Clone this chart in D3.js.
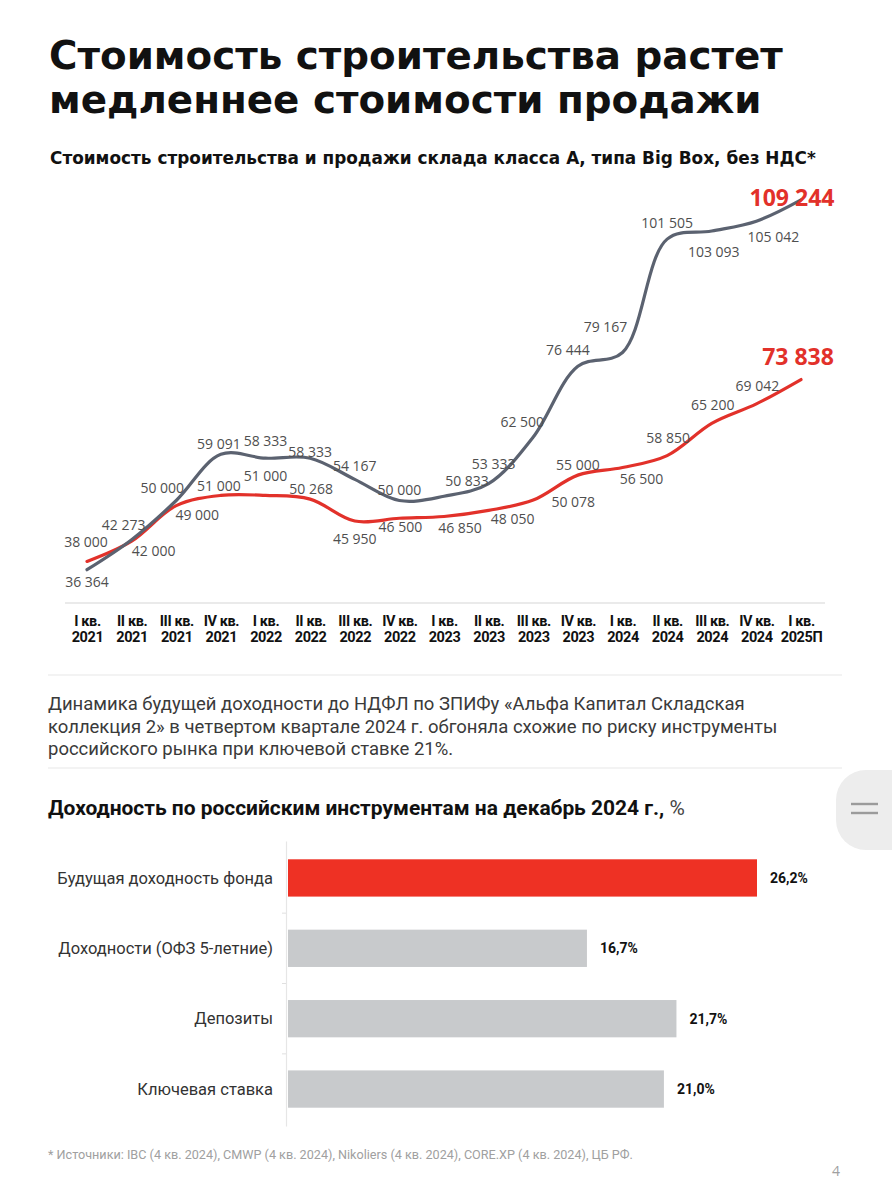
<!DOCTYPE html>
<html>
<head>
<meta charset="utf-8">
<script src="https://cdn.jsdelivr.net/npm/d3@7"></script>
<style>
  body { margin: 0; background: #fff; }
  svg { display: block; font-family: "Open Sans", sans-serif; }
</style>
</head>
<body>
<div id="page"></div>
<script>
// ---- data ----
const quarterNames = ["I кв.", "II кв.", "III кв.", "IV кв.", "I кв.", "II кв.", "III кв.", "IV кв.",
  "I кв.", "II кв.", "III кв.", "IV кв.", "I кв.", "II кв.", "III кв.", "IV кв.", "I кв."];
const quarterYears = ["2021", "2021", "2021", "2021", "2022", "2022", "2022", "2022",
  "2023", "2023", "2023", "2023", "2024", "2024", "2024", "2024", "2025П"];
const saleCost = [36364, 42273, 50000, 59091, 58333, 58333, 54167, 50000, 50833,
  53333, 62500, 76444, 79167, 101505, 103093, 105042, 109244];
const buildCost = [38000, 42000, 49000, 51000, 51000, 50268, 45950, 46500, 46850,
  48050, 50078, 55000, 56500, 58850, 65200, 69042, 73838];

const barCategories = ["Будущая доходность фонда", "Доходности (ОФЗ 5-летние)", "Депозиты", "Ключевая ставка"];
const barValues = [26.2, 16.7, 21.7, 21.0];

// label nudges (layout only): [dx, dy] from the point
const saleLabelNudge = [[0, 12], [-8, -15], [-14, -13], [-2, -10], [0, -17], [0, -6], [0, -13], [0, -11],
  [23, -15], [5, -20], [-11, -15], [-10, -16], [-17, -26], [0, -16], [2, 21], [17, 16], [-9, -2]];
const buildLabelNudge = [[-1, -19], [22, 10], [21, 9], [-2, -9], [0, -19], [1, -10], [0, 18], [1, 9],
  [16, 11], [24, 9], [40, 2], [0, -10], [19, 11], [1, -18], [1, -18], [1, -18], [-3, -23]];

const W = 892, H = 1200;
const red = "#e2312a", grey = "#5b6270";
const ru = d3.formatLocale({ decimal: ",", thousands: "\u00a0", grouping: [3], currency: ["", ""] });
const fmtNum = ru.format(",");
const fmtPct = ru.format(".1f");

const svg = d3.select("#page").append("svg")
  .attr("width", W).attr("height", H)
  .attr("viewBox", [0, 0, W, H]);

function fit(sel, w) {
  const fs = parseFloat(sel.attr("font-size"));
  const len = sel.node().getComputedTextLength();
  sel.attr("font-size", (fs * w / len).toFixed(2));
}

// ---- titles ----
const headFont = "'DejaVu Sans', sans-serif";
const t1 = svg.append("text").attr("x", 49).attr("y", 69)
  .attr("font-family", headFont)
  .attr("font-size", 36).attr("font-weight", 700).attr("fill", "#111")
  .text("Стоимость строительства растет");
fit(t1, 734);
svg.append("text").attr("x", 49).attr("y", 113)
  .attr("font-family", headFont)
  .attr("font-size", t1.attr("font-size")).attr("font-weight", 700).attr("fill", "#111")
  .text("медленнее стоимости продажи");

const st = svg.append("text").attr("x", 50).attr("y", 164)
  .attr("font-family", headFont)
  .attr("font-size", 17).attr("font-weight", 700).attr("fill", "#111")
  .text("Стоимость строительства и продажи склада класса А, типа Big Box, без НДС*");
fit(st, 766);

// ---- line chart ----
const keys = quarterNames.map((q, i) => i);
const x = d3.scalePoint().domain(keys).range([87, 801]);
const y = d3.scaleLinear().domain([30000, 110000]).range([602, 196]);

const lineChart = svg.append("g");

lineChart.append("line")
  .attr("x1", x(0) - 22).attr("x2", x(16) + 24)
  .attr("y1", 603).attr("y2", 603)
  .attr("stroke", "#e3e3e3").attr("stroke-width", 1.5);

const bottomAxis = d3.axisBottom(x).tickSize(0).tickFormat(() => "");
const axisG = lineChart.append("g")
  .attr("transform", "translate(0, 603)")
  .call(bottomAxis);
axisG.select(".domain").remove();
axisG.selectAll(".tick text").remove();
axisG.selectAll(".tick").append("text")
  .attr("text-anchor", "middle")
  .attr("font-family", "Roboto, sans-serif")
  .attr("font-weight", 700).attr("font-size", 14.5).attr("fill", "#111")
  .attr("letter-spacing", -0.4)
  .each(function (d) {
    const t = d3.select(this);
    t.append("tspan").attr("x", 0).attr("y", 23).text(quarterNames[d]);
    t.append("tspan").attr("x", 0).attr("y", 39).text(quarterYears[d]);
  });

const line = d3.line()
  .x((d, i) => x(i))
  .y(d => y(d))
  .curve(d3.curveCatmullRom.alpha(0.5));

lineChart.append("path").datum(buildCost)
  .attr("d", line).attr("fill", "none")
  .attr("stroke", red).attr("stroke-width", 3.2).attr("stroke-linecap", "round");
lineChart.append("path").datum(saleCost)
  .attr("d", line).attr("fill", "none")
  .attr("stroke", grey).attr("stroke-width", 3.2).attr("stroke-linecap", "round");

function drawLabels(values, nudge) {
  const last = values.length - 1;
  lineChart.append("g").selectAll("text")
    .data(values)
    .join("text")
      .attr("x", (d, i) => x(i) + nudge[i][0])
      .attr("y", (d, i) => y(d) + nudge[i][1])
      .attr("dy", "0.36em")
      .attr("text-anchor", "middle")
      .attr("font-size", (d, i) => i === last ? 23 : 14)
      .attr("font-weight", (d, i) => i === last ? 700 : 400)
      .attr("fill", (d, i) => i === last ? red : "#4f4f4f")
      .text(d => fmtNum(d));
}
drawLabels(buildCost, buildLabelNudge);
drawLabels(saleCost, saleLabelNudge);

// ---- text block ----
svg.append("line").attr("x1", 48).attr("x2", 842).attr("y1", 675).attr("y2", 675)
  .attr("stroke", "#efefef").attr("stroke-width", 1.5);

const paraLines = [
  "Динамика будущей доходности до НДФЛ по ЗПИФу «Альфа Капитал Складская",
  "коллекция 2» в четвертом квартале 2024 г. обгоняла схожие по риску инструменты",
  "российского рынка при ключевой ставке 21%."
];
const para = svg.append("text")
  .attr("font-family", "Roboto, sans-serif").attr("font-size", 17).attr("fill", "#3a3a3a");
para.selectAll("tspan").data(paraLines).join("tspan")
  .attr("x", 48).attr("y", (d, i) => 710 + i * 22.5).text(d => d);
{
  const first = para.select("tspan").node();
  const fs = 17 * 697 / first.getComputedTextLength();
  para.attr("font-size", fs.toFixed(2));
}

svg.append("line").attr("x1", 48).attr("x2", 842).attr("y1", 768).attr("y2", 768)
  .attr("stroke", "#efefef").attr("stroke-width", 1.5);

// side handle
svg.append("rect").attr("x", 836).attr("y", 770).attr("width", 90).attr("height", 80)
  .attr("rx", 30).attr("fill", "#ededed");
[804, 813].forEach(v => svg.append("line")
  .attr("x1", 851).attr("x2", 878).attr("y1", v).attr("y2", v)
  .attr("stroke", "#9b9b9b").attr("stroke-width", 2.4));

// ---- bar chart ----
const bt = svg.append("text").attr("x", 48).attr("y", 815)
  .attr("font-family", "Roboto, sans-serif").attr("font-size", 17).attr("fill", "#111");
bt.append("tspan").attr("font-weight", 700).text("Доходность по российским инструментам на декабрь 2024 г.,");
bt.append("tspan").attr("font-weight", 400).attr("fill", "#444").text(" %");
fit(bt, 637);

const xb = d3.scaleLinear().domain([0, d3.max(barValues)]).range([288, 757]);
const yb = d3.scaleBand().domain(barCategories).range([841, 1126])
  .paddingInner(0.47).paddingOuter(0.26);

const barChart = svg.append("g");

const leftAxis = d3.axisLeft(yb).tickSize(0).tickFormat("");
const la = barChart.append("g").attr("transform", "translate(286,0)").call(leftAxis);
la.select(".domain").attr("stroke", "#e6e6e6").attr("stroke-width", 1.2);
la.selectAll(".tick").remove();
// separator ticks between bars
barChart.selectAll(".sep")
  .data(barCategories.slice(1))
  .join("line")
    .attr("x1", 282).attr("x2", 286)
    .attr("y1", d => yb(d) - yb.step() * yb.paddingInner() / 2)
    .attr("y2", d => yb(d) - yb.step() * yb.paddingInner() / 2)
    .attr("stroke", "#e0e0e0");

barChart.selectAll(".bar")
  .data(barValues)
  .join("rect")
    .attr("x", xb(0))
    .attr("y", (d, i) => yb(barCategories[i]))
    .attr("width", d => xb(d) - xb(0))
    .attr("height", yb.bandwidth())
    .attr("fill", (d, i) => i === 0 ? "#ee3124" : "#c8cacc");

barChart.selectAll(".cat")
  .data(barCategories)
  .join("text")
    .attr("x", 273)
    .attr("y", d => yb(d) + yb.bandwidth() / 2)
    .attr("dy", "0.35em")
    .attr("text-anchor", "end")
    .attr("font-family", "Roboto, sans-serif").attr("font-size", 16.5).attr("fill", "#333")
    .text(d => d);

barChart.selectAll(".val")
  .data(barValues)
  .join("text")
    .attr("x", d => xb(d) + 13)
    .attr("y", (d, i) => yb(barCategories[i]) + yb.bandwidth() / 2)
    .attr("dy", "0.35em")
    .attr("font-family", "Roboto, sans-serif").attr("font-weight", 700)
    .attr("font-size", 14).attr("fill", "#111")
    .text(d => fmtPct(d) + "%");

// ---- footer ----
const fn = svg.append("text").attr("x", 48).attr("y", 1159)
  .attr("font-family", "Roboto, sans-serif").attr("font-size", 11).attr("fill", "#a0a0a0")
  .text("* Источники: IBC (4 кв. 2024), CMWP (4 кв. 2024), Nikoliers (4 кв. 2024), CORE.XP (4 кв. 2024), ЦБ РФ.");
fit(fn, 585);

svg.append("text").attr("x", 836).attr("y", 1176)
  .attr("text-anchor", "middle").attr("font-size", 14).attr("fill", "#a0a0a0")
  .text("4");
</script>
</body>
</html>
